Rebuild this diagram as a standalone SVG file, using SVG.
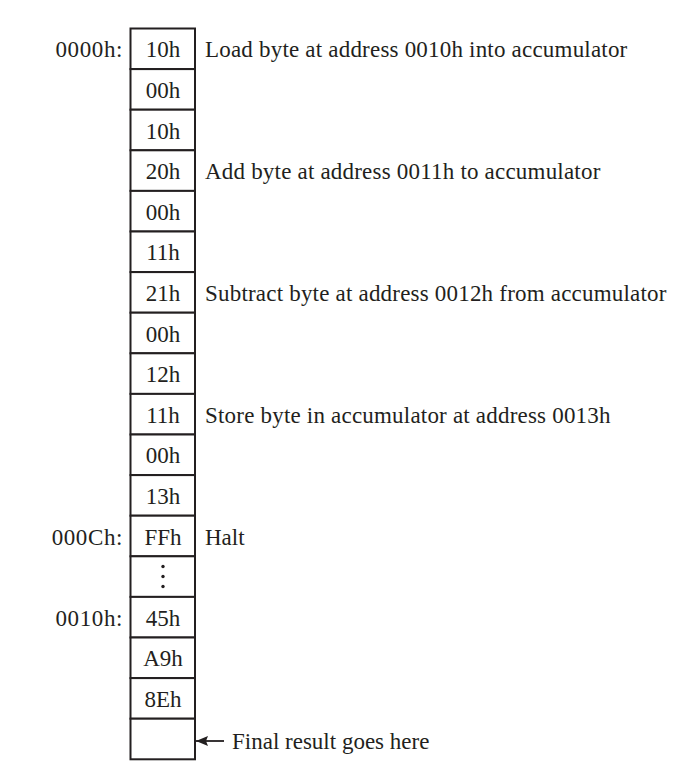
<svg xmlns="http://www.w3.org/2000/svg" width="700" height="777" viewBox="0 0 700 777">
<style>
text{font-family:"Liberation Serif","Times New Roman",serif;font-size:23px;fill:#231f20}
.c{text-anchor:middle}
.a{text-anchor:end;letter-spacing:0.6px}
.w{letter-spacing:0.2px}
.cell{fill:#fff;stroke:#231f20;stroke-width:2}
</style>
<defs>
<marker id="ah" markerWidth="12" markerHeight="10" refX="0" refY="5" orient="auto" markerUnits="userSpaceOnUse">
<path d="M12,0 L0,5 L12,10 L10,5 Z" fill="#231f20"/>
</marker>
</defs>
<rect width="700" height="777" fill="#fff"/>
<g id="memory">
<g id="r0"><rect class="cell" x="130.5" y="28.5" width="64.5" height="40.6"/><text class="c" x="163" y="57.3">10h</text></g>
<g id="r1"><rect class="cell" x="130.5" y="69.1" width="64.5" height="40.6"/><text class="c" x="163" y="97.9">00h</text></g>
<g id="r2"><rect class="cell" x="130.5" y="109.7" width="64.5" height="40.6"/><text class="c" x="163" y="138.5">10h</text></g>
<g id="r3"><rect class="cell" x="130.5" y="150.3" width="64.5" height="40.6"/><text class="c" x="163" y="179.1">20h</text></g>
<g id="r4"><rect class="cell" x="130.5" y="190.9" width="64.5" height="40.6"/><text class="c" x="163" y="219.7">00h</text></g>
<g id="r5"><rect class="cell" x="130.5" y="231.5" width="64.5" height="40.6"/><text class="c" x="163" y="260.3">11h</text></g>
<g id="r6"><rect class="cell" x="130.5" y="272.1" width="64.5" height="40.6"/><text class="c" x="163" y="300.9">21h</text></g>
<g id="r7"><rect class="cell" x="130.5" y="312.7" width="64.5" height="40.6"/><text class="c" x="163" y="341.5">00h</text></g>
<g id="r8"><rect class="cell" x="130.5" y="353.3" width="64.5" height="40.6"/><text class="c" x="163" y="382.1">12h</text></g>
<g id="r9"><rect class="cell" x="130.5" y="393.9" width="64.5" height="40.6"/><text class="c" x="163" y="422.7">11h</text></g>
<g id="r10"><rect class="cell" x="130.5" y="434.5" width="64.5" height="40.6"/><text class="c" x="163" y="463.3">00h</text></g>
<g id="r11"><rect class="cell" x="130.5" y="475.1" width="64.5" height="40.6"/><text class="c" x="163" y="503.9">13h</text></g>
<g id="r12"><rect class="cell" x="130.5" y="515.7" width="64.5" height="40.6"/><text class="c" x="163" y="544.5">FFh</text></g>
<g id="r13"><rect class="cell" x="130.5" y="556.3" width="64.5" height="40.6"/><circle cx="163" cy="566.5" r="1.7" fill="#231f20"/><circle cx="163" cy="576.5" r="1.7" fill="#231f20"/><circle cx="163" cy="586.5" r="1.7" fill="#231f20"/></g>
<g id="r14"><rect class="cell" x="130.5" y="596.9" width="64.5" height="40.6"/><text class="c" x="163" y="625.7">45h</text></g>
<g id="r15"><rect class="cell" x="130.5" y="637.5" width="64.5" height="40.6"/><text class="c" x="163" y="666.3">A9h</text></g>
<g id="r16"><rect class="cell" x="130.5" y="678.1" width="64.5" height="40.6"/><text class="c" x="163" y="706.9">8Eh</text></g>
<g id="r17"><rect class="cell" x="130.5" y="718.7" width="64.5" height="40.6"/></g>
</g>
<g id="addresses">
<text class="a" x="123" y="57.3">0000h:</text>
<text class="a" x="123" y="544.5">000Ch:</text>
<text class="a" x="123" y="625.7">0010h:</text>
</g>
<g id="comments">
<text class="w" x="205" y="57.3">Load byte at address 0010h into accumulator</text>
<text class="w" x="205" y="179.1">Add byte at address 0011h to accumulator</text>
<text class="w" x="205" y="300.9">Subtract byte at address 0012h from accumulator</text>
<text class="w" x="205" y="422.7">Store byte in accumulator at address 0013h</text>
<text x="205" y="544.5">Halt</text>
<text x="232" y="748.5">Final result goes here</text>
</g>
<g id="connectors">
<line x1="196" y1="741" x2="224" y2="741" stroke="#231f20" stroke-width="1.8" marker-start="url(#ah)"/>
</g>
</svg>
